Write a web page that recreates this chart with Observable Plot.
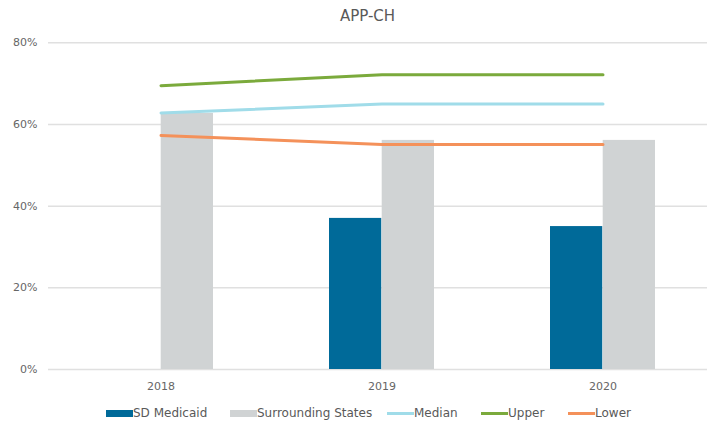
<!DOCTYPE html>
<html>
<head>
<meta charset="utf-8">
<script src="https://cdn.jsdelivr.net/npm/d3@7"></script>
<script src="https://cdn.jsdelivr.net/npm/@observablehq/plot@0.6"></script>
<style>
  html, body { margin: 0; padding: 0; background: #fff; }
  #wrap { position: relative; width: 707px; height: 421px; overflow: hidden; font-family: "DejaVu Sans", sans-serif; color: #595959; }
  #title { position: absolute; left: 0; width: 735px; top: 7px; text-align: center; font-size: 15px; color: #595959; }
  .leg { position: absolute; top: 405px; font-size: 12px; color: #595959; display: flex; align-items: center; height: 16px; white-space: nowrap; }
  .sw { display: inline-block; width: 27px; }
  #chart { position: absolute; left: 0; top: 0; }
</style>
</head>
<body>
<div id="wrap">
  <div id="chart"></div>
  <div id="title">APP-CH</div>
</div>
<script>
const years = ["2018", "2019", "2020"];
const sdMedicaid = [null, 0.37, 0.35];
const surrounding = [0.627, 0.561, 0.561];
const median = [0.628, 0.650, 0.650];
const upper = [0.695, 0.722, 0.722];
const lower = [0.573, 0.551, 0.551];
const yTicks = [0, 0.2, 0.4, 0.6, 0.8];

const colors = {
  "SD Medicaid": "#006A99",
  "Surrounding States": "#D0D3D4",
  "Median": "#A0DCE9",
  "Upper": "#7BAA3C",
  "Lower": "#F4915A"
};

const sdData = years.map((y, i) => ({year: y, value: sdMedicaid[i]})).filter(d => d.value != null);
const srData = years.map((y, i) => ({year: y, value: surrounding[i]}));
const lineData = (arr, name) => years.map((y, i) => ({year: y, value: arr[i], series: name}));

const W = 707, H = 421;
const chart = Plot.plot({
  width: W,
  height: H,
  marginTop: 42,
  marginBottom: 52,
  marginLeft: 48,
  marginRight: 0,
  style: {fontFamily: "DejaVu Sans, sans-serif", fontSize: "11px", color: "#666666", background: "transparent"},
  x: {domain: years, range: [48.7, 714.1], paddingInner: 0.525, paddingOuter: 0.2625, label: null, tickSize: 0, tickPadding: 13},
  y: {domain: [0, 0.8], range: [369, 42.3], ticks: yTicks, tickFormat: d3.format(".0%"), label: null, tickSize: 0, tickPadding: 11},
  marks: [
    Plot.ruleY(yTicks, {stroke: "#E0E0E0", strokeWidth: 1.5}),
    Plot.barY(sdData, {x: "year", y: "value", fill: colors["SD Medicaid"], insetRight: 52.7}),
    Plot.barY(srData, {x: "year", y: "value", fill: colors["Surrounding States"], insetLeft: 52.7}),
    Plot.line(lineData(median, "Median"), {x: "year", y: "value", stroke: colors["Median"], strokeWidth: 3}),
    Plot.line(lineData(upper, "Upper"), {x: "year", y: "value", stroke: colors["Upper"], strokeWidth: 3}),
    Plot.line(lineData(lower, "Lower"), {x: "year", y: "value", stroke: colors["Lower"], strokeWidth: 3})
  ]
});
document.getElementById("chart").appendChild(chart);

// Legend
const legendItems = [
  {name: "SD Medicaid", kind: "bar", left: 106},
  {name: "Surrounding States", kind: "bar", left: 230},
  {name: "Median", kind: "line", left: 387},
  {name: "Upper", kind: "line", left: 481},
  {name: "Lower", kind: "line", left: 568}
];
const wrap = document.getElementById("wrap");
for (const it of legendItems) {
  const div = document.createElement("div");
  div.className = "leg";
  div.style.left = it.left + "px";
  const sw = document.createElement("span");
  sw.className = "sw";
  sw.style.background = colors[it.name];
  sw.style.height = it.kind === "bar" ? "7px" : "3px";
  div.appendChild(sw);
  const t = document.createElement("span");
  t.textContent = it.name;
  div.appendChild(t);
  wrap.appendChild(div);
}
</script>
</body>
</html>
